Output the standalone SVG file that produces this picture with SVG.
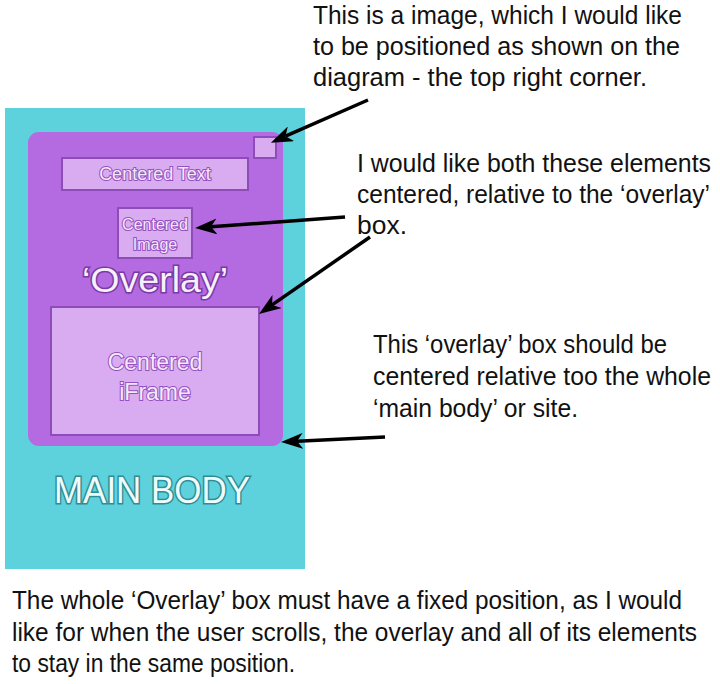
<svg xmlns="http://www.w3.org/2000/svg" width="720" height="684" viewBox="0 0 720 684">
  <defs>
    <style>
      .note { font-family: "Liberation Sans", Arial, sans-serif; font-size: 25px; fill: #111; }
      .box { fill: #d9abf0; stroke: #8e4cb9; stroke-width: 2; }
      .inlabel { font-family: "Liberation Sans", Arial, sans-serif; fill: #f4e8fb; stroke: #9550c2; stroke-width: 2; paint-order: stroke; text-anchor: middle; }
      .conn { stroke: #000; stroke-width: 3.5; fill: none; marker-end: url(#head); }
    </style>
    <marker id="head" viewBox="0 0 22 16" refX="6" refY="8" markerWidth="22" markerHeight="16" markerUnits="userSpaceOnUse" orient="auto">
      <path d="M0,0 L22,8 L0,16 L6,8 Z" fill="#000"/>
    </marker>
  </defs>
  <rect width="720" height="684" fill="#ffffff"/>

  <g id="main-body">
    <rect x="5" y="108" width="300" height="461" fill="#5dd1dc"/>
    <text x="152" y="503" text-anchor="middle" font-family="Liberation Sans, Arial, sans-serif" font-size="36" fill="#eefcfd" stroke="#2e8d94" stroke-width="3" paint-order="stroke" textLength="196" lengthAdjust="spacingAndGlyphs">MAIN BODY</text>
  </g>

  <g id="overlay">
    <rect x="28" y="132" width="255" height="314" rx="11" fill="#b46ae0"/>
    <text x="155" y="292" text-anchor="middle" font-family="Liberation Sans, Arial, sans-serif" font-size="35" fill="#f8effc" stroke="#7a3aa6" stroke-width="3" paint-order="stroke" textLength="146" lengthAdjust="spacingAndGlyphs">‘Overlay’</text>
  </g>

  <g id="corner-image">
    <rect x="254" y="137" width="22" height="21" class="box"/>
  </g>

  <g id="centered-text">
    <rect x="62" y="158" width="186" height="32" class="box"/>
    <text x="155" y="180" class="inlabel" font-size="18">Centered Text</text>
  </g>

  <g id="centered-image">
    <rect x="118" y="208" width="74" height="50" class="box"/>
    <text x="155" y="230" class="inlabel" font-size="16">Centered</text>
    <text x="155" y="250" class="inlabel" font-size="16">Image</text>
  </g>

  <g id="centered-iframe">
    <rect x="51" y="307" width="208" height="128" class="box"/>
    <text x="155" y="370" class="inlabel" font-size="23">Centered</text>
    <text x="155" y="400" class="inlabel" font-size="23">iFrame</text>
  </g>

  <g id="connectors">
    <line x1="368" y1="100" x2="285.5" y2="136.2" class="conn"/>
    <line x1="345" y1="217" x2="211" y2="226.8" class="conn"/>
    <line x1="370" y1="237" x2="272.1" y2="304.9" class="conn"/>
    <line x1="385" y1="437" x2="297" y2="441.2" class="conn"/>
  </g>

  <g id="note-corner">
    <text x="313" y="24" class="note" textLength="369" lengthAdjust="spacingAndGlyphs">This is a image, which I would like</text>
    <text x="313" y="55" class="note" textLength="367" lengthAdjust="spacingAndGlyphs">to be positioned as shown on the</text>
    <text x="313" y="86" class="note" textLength="334" lengthAdjust="spacingAndGlyphs">diagram - the top right corner.</text>
  </g>

  <g id="note-centered">
    <text x="357" y="172" class="note" textLength="354" lengthAdjust="spacingAndGlyphs">I would like both these elements</text>
    <text x="357" y="203" class="note" textLength="353" lengthAdjust="spacingAndGlyphs">centered, relative to the ‘overlay’</text>
    <text x="357" y="234" class="note" textLength="50" lengthAdjust="spacingAndGlyphs">box.</text>
  </g>

  <g id="note-overlay">
    <text x="373" y="353" class="note" textLength="294" lengthAdjust="spacingAndGlyphs">This ‘overlay’ box should be</text>
    <text x="373" y="385" class="note" textLength="338" lengthAdjust="spacingAndGlyphs">centered relative too the whole</text>
    <text x="373" y="417" class="note" textLength="205" lengthAdjust="spacingAndGlyphs">‘main body’ or site.</text>
  </g>

  <g id="note-fixed">
    <text x="12" y="609" class="note" textLength="670" lengthAdjust="spacingAndGlyphs">The whole ‘Overlay’ box must have a fixed position, as I would</text>
    <text x="12" y="641" class="note" textLength="685" lengthAdjust="spacingAndGlyphs">like for when the user scrolls, the overlay and all of its elements</text>
    <text x="12" y="672" class="note" textLength="283" lengthAdjust="spacingAndGlyphs">to stay in the same position.</text>
  </g>
</svg>
